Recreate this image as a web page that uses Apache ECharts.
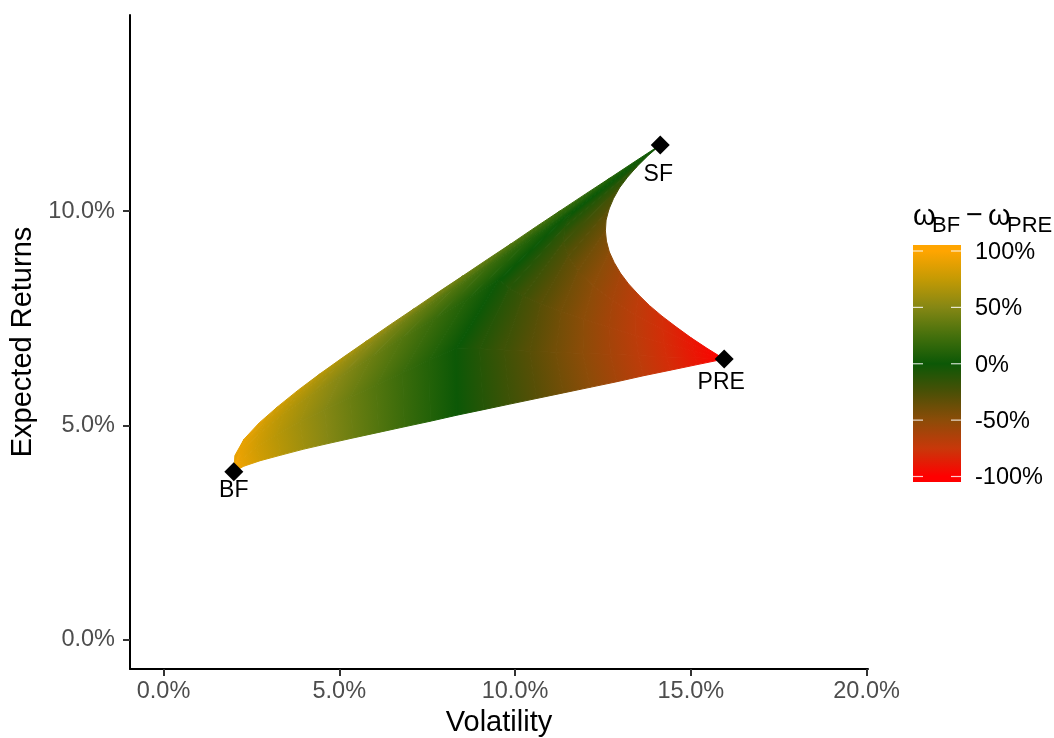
<!DOCTYPE html>
<html>
<head>
<meta charset="utf-8">
<script src="https://cdn.jsdelivr.net/npm/echarts@6/dist/echarts.min.js"></script>
<style>
  html, body { margin: 0; padding: 0; background: #fff; }
  #chart { width: 1054px; height: 738px; }
</style>
</head>
<body>
<div id="chart"></div>
<script>
// ============================================================================
// Three-asset portfolio cloud (BF / SF / PRE), coloured by wBF - wPRE
// the cloud is drawn as thin bands between iso-curves of equal wBF - wPRE
// ============================================================================
const assetNames = ['BF', 'SF', 'PRE'];
const assetVol = [2.0, 14.13, 15.95];
const assetRet = [3.92, 11.54, 6.55];

const xTicks = [0, 5, 10, 15, 20];
const yTicks = [0, 5, 10];
const legendTicks = [100, 50, 0, -50, -100];

// wBF - wPRE of every iso-curve
const dLevels = [1, 0.9, 0.8, 0.7, 0.6, 0.5, 0.4, 0.3, 0.2, 0.1, 0,
  -0.1, -0.2, -0.3, -0.4, -0.5, -0.6, -0.7, -0.8, -0.9, -1];

// iso-curves, [volatility %, expected return %], upper/right edge -> lower edge
const isoCurves = [
  [[2.00, 3.92], [2.00, 3.92], [2.00, 3.92], [2.00, 3.92], [2.00, 3.92]],
  [[2.29, 4.68], [2.21, 4.52], [2.19, 4.37], [2.21, 4.21], [2.28, 4.05]],
  [[3.25, 5.44], [2.92, 5.13], [2.71, 4.81], [2.65, 4.50], [2.75, 4.18]],
  [[4.46, 6.21], [3.85, 5.73], [3.41, 5.26], [3.23, 4.79], [3.34, 4.31]],
  [[5.78, 6.97], [4.88, 6.34], [4.21, 5.71], [3.88, 5.08], [3.99, 4.45]],
  [[7.14, 7.73], [5.96, 6.94], [5.05, 6.15], [4.58, 5.37], [4.68, 4.58]],
  [[8.52, 8.49], [7.06, 7.55], [5.92, 6.60], [5.31, 5.66], [5.39, 4.71]],
  [[9.91, 9.25], [8.18, 8.15], [6.81, 7.05], [6.05, 5.94], [6.12, 4.84]],
  [[11.31, 10.02], [9.31, 8.76], [7.71, 7.49], [6.80, 6.23], [6.85, 4.97]],
  [[12.72, 10.78], [10.45, 9.36], [8.62, 7.94], [7.56, 6.52], [7.59, 5.10]],
  [[14.13, 11.54], [11.59, 9.96], [9.54, 8.39], [8.33, 6.81], [8.34, 5.24]],
  [[13.47, 11.04], [11.41, 9.62], [9.83, 8.20], [8.99, 6.79], [9.10, 5.37]],
  [[12.97, 10.54], [11.38, 9.28], [10.23, 8.02], [9.69, 6.76], [9.85, 5.50]],
  [[12.67, 10.04], [11.51, 8.94], [10.73, 7.84], [10.42, 6.73], [10.61, 5.63]],
  [[12.57, 9.54], [11.79, 8.60], [11.31, 7.65], [11.16, 6.71], [11.37, 5.76]],
  [[12.68, 9.05], [12.22, 8.26], [11.96, 7.47], [11.93, 6.68], [12.13, 5.89]],
  [[13.00, 8.55], [12.77, 7.92], [12.67, 7.29], [12.71, 6.66], [12.89, 6.02]],
  [[13.51, 8.05], [13.43, 7.57], [13.44, 7.10], [13.51, 6.63], [13.65, 6.16]],
  [[14.18, 7.55], [14.20, 7.23], [14.24, 6.92], [14.31, 6.60], [14.42, 6.29]],
  [[15.00, 7.05], [15.04, 6.89], [15.08, 6.73], [15.13, 6.58], [15.18, 6.42]],
  [[15.95, 6.55], [15.95, 6.55], [15.95, 6.55], [15.95, 6.55], [15.95, 6.55]],
];

// outer edge (BF-SF, then SF-PRE) half-way between two neighbouring iso-curves
const upperEdgeMid = [
  [2.03, 4.30], [2.72, 5.06], [3.84, 5.83], [5.11, 6.59], [6.45, 7.35],
  [7.82, 8.11], [9.21, 8.87], [10.61, 9.64], [12.01, 10.40], [13.42, 11.16],
  [13.78, 11.29], [13.20, 10.79], [12.80, 10.29], [12.59, 9.79], [12.60, 9.30],
  [12.82, 8.80], [13.23, 8.30], [13.82, 7.80], [14.58, 7.30], [15.46, 6.80],
];

// ---------------------------------------------------------------- styling
const FONT = '"Liberation Sans", Arial, Helvetica, sans-serif';
const colourStops = [
  [100, '#FFA500'], [75, '#C49A04'], [50, '#858714'], [25, '#45700C'], [0, '#0C5806'],
  [-25, '#4A5006'], [-50, '#8C4C08'], [-75, '#C8380A'], [-100, '#FF0000'],
];
const hex = c => [1, 3, 5].map(k => parseInt(c.slice(k, k + 2), 16));
function colourAt(pct) {
  const v = Math.max(-100, Math.min(100, pct));
  for (let k = 0; k < colourStops.length - 1; k++) {
    const [v0, c0] = colourStops[k], [v1, c1] = colourStops[k + 1];
    if (v <= v0 && v >= v1) {
      const t = (v0 - v) / (v0 - v1);
      const a = hex(c0), b = hex(c1);
      const m = a.map((x, j) => Math.round(x + (b[j] - x) * t));
      return `rgb(${m[0]},${m[1]},${m[2]})`;
    }
  }
  return colourStops[colourStops.length - 1][1];
}

const mid = (p, q) => [(p[0] + q[0]) / 2, (p[1] + q[1]) / 2];

// band between iso-curve i and i+1, split in quads; each quad gets its own gradient
function bandItem(params, api) {
  const i = params.dataIndex;
  const a = isoCurves[i].map(p => api.coord(p));
  const b = isoCurves[i + 1].map(p => api.coord(p));
  const c0 = colourAt(dLevels[i] * 100), c1 = colourAt(dLevels[i + 1] * 100);
  const children = [];
  for (let k = 0; k < a.length - 1; k++) {
    const pts = [a[k], a[k + 1], b[k + 1], b[k]];
    if (k === 0) pts.push(api.coord(upperEdgeMid[i]));
    const ex = a[k + 1][0] - a[k][0] + b[k + 1][0] - b[k][0];
    const ey = a[k + 1][1] - a[k][1] + b[k + 1][1] - b[k][1];
    const len = Math.hypot(ex, ey) || 1;
    const nx = -ey / len, ny = ex / len;
    const ma = mid(a[k], a[k + 1]), mb = mid(b[k], b[k + 1]);
    const ta = ma[0] * nx + ma[1] * ny, tb = mb[0] * nx + mb[1] * ny;
    let fill;
    if (Math.abs(ta - tb) < 0.3) {
      fill = colourAt((dLevels[i] + dLevels[i + 1]) * 50);
    } else {
      const o = mid(ma, mb), h = (ta - tb) / 2;
      fill = new echarts.graphic.LinearGradient(
        o[0] + nx * h, o[1] + ny * h, o[0] - nx * h, o[1] - ny * h,
        [{ offset: 0, color: c0 }, { offset: 1, color: c1 }], true);
    }
    children.push({
      type: 'polygon',
      shape: { points: pts },
      style: { fill: fill, stroke: fill, lineWidth: 1 },
    });
  }
  return { type: 'group', children: children };
}

// ---------------------------------------------------------------- legend
const bar = { x: 913, w: 48, top: 245, bottom: 482, yMax: 251, yMin: 476.5 };
const legendY = v => bar.yMax + (100 - v) / 200 * (bar.yMin - bar.yMax);
const barH = bar.bottom - bar.top;
const barGradient = new echarts.graphic.LinearGradient(0, 0, 0, 1,
  colourStops.map(([v, c]) => ({ offset: (legendY(v) - bar.top) / barH, color: c })));

const legendGraphic = [
  { type: 'rect', shape: { x: bar.x, y: bar.top, width: bar.w, height: barH },
    style: { fill: barGradient } },
  ...legendTicks.flatMap(v => [
    { type: 'line', shape: { x1: bar.x, y1: legendY(v), x2: bar.x + 10, y2: legendY(v) },
      style: { stroke: 'rgba(255,255,255,0.8)', lineWidth: 1.2 } },
    { type: 'line', shape: { x1: bar.x + bar.w - 10, y1: legendY(v), x2: bar.x + bar.w, y2: legendY(v) },
      style: { stroke: 'rgba(255,255,255,0.8)', lineWidth: 1.2 } },
    { type: 'text', x: 975, y: legendY(v) + 1.5,
      style: { text: v + '%', fill: '#000', font: `23.5px ${FONT}`, verticalAlign: 'middle' } },
  ]),
  // title: omega_BF - omega_PRE
  { type: 'text', x: 913, y: 217, style: { text: 'ω', fill: '#000', font: `29px ${FONT}`, verticalAlign: 'middle' } },
  { type: 'text', x: 932, y: 226, style: { text: 'BF', fill: '#000', font: `22px ${FONT}`, verticalAlign: 'middle' } },
  { type: 'text', x: 966, y: 216, style: { text: '−', fill: '#000', font: `29px ${FONT}`, verticalAlign: 'middle' } },
  { type: 'text', x: 988, y: 217, style: { text: 'ω', fill: '#000', font: `29px ${FONT}`, verticalAlign: 'middle' } },
  { type: 'text', x: 1007, y: 226, style: { text: 'PRE', fill: '#000', font: `22px ${FONT}`, verticalAlign: 'middle' } },
];

// ---------------------------------------------------------------- chart
const chart = echarts.init(document.getElementById('chart'), null, { renderer: 'canvas' });
const pctFmt = v => v.toFixed(1) + '%';
const labelOffsets = { BF: [0, 19], SF: [-2, 30], PRE: [-3, 24] };

chart.setOption({
  animation: false,
  backgroundColor: '#fff',
  textStyle: { fontFamily: FONT },
  grid: { left: 130, right: 186, top: 15, bottom: 69, containLabel: false, outerBoundsMode: 'none' },
  xAxis: {
    type: 'value',
    min: -0.953, max: 20.04,
    name: 'Volatility',
    nameLocation: 'middle',
    nameGap: 36,
    nameTextStyle: { color: '#000', fontSize: 29, fontFamily: FONT },
    axisLine: { show: true, onZero: false, lineStyle: { color: '#000', width: 2 } },
    axisTick: { show: true, customValues: xTicks, length: 7, lineStyle: { color: '#333', width: 2 } },
    axisLabel: { customValues: xTicks, formatter: pctFmt, color: '#4D4D4D', fontSize: 23.5, margin: 11, fontFamily: FONT },
    splitLine: { show: false },
  },
  yAxis: {
    type: 'value',
    min: -0.676, max: 14.57,
    name: 'Expected Returns',
    nameLocation: 'middle',
    nameGap: 74,
    nameRotate: 90,
    nameTextStyle: { color: '#000', fontSize: 29, fontFamily: FONT },
    axisLine: { show: true, onZero: false, lineStyle: { color: '#000', width: 2 } },
    axisTick: { show: true, customValues: yTicks, length: 7, lineStyle: { color: '#333', width: 2 } },
    axisLabel: { customValues: yTicks, formatter: pctFmt, color: '#4D4D4D', fontSize: 23.5, margin: 15, fontFamily: FONT },
    splitLine: { show: false },
  },
  series: [
    {
      type: 'custom',
      coordinateSystem: 'cartesian2d',
      silent: true,
      renderItem: bandItem,
      data: dLevels.slice(0, -1).map((d, i) => [i, d]),
      z: 2,
    },
    {
      type: 'scatter',
      silent: true,
      symbol: 'diamond',
      symbolSize: 19,
      itemStyle: { color: '#000', opacity: 1 },
      data: assetNames.map((n, i) => ({
        name: n,
        value: [assetVol[i], assetRet[i]],
        label: { offset: labelOffsets[n] },
      })),
      label: {
        show: true,
        position: 'inside',
        formatter: p => p.name,
        color: '#000',
        opacity: 1,
        fontSize: 23,
        fontFamily: FONT,
      },
      z: 5,
    },
  ],
  graphic: legendGraphic,
});
</script>
</body>
</html>
